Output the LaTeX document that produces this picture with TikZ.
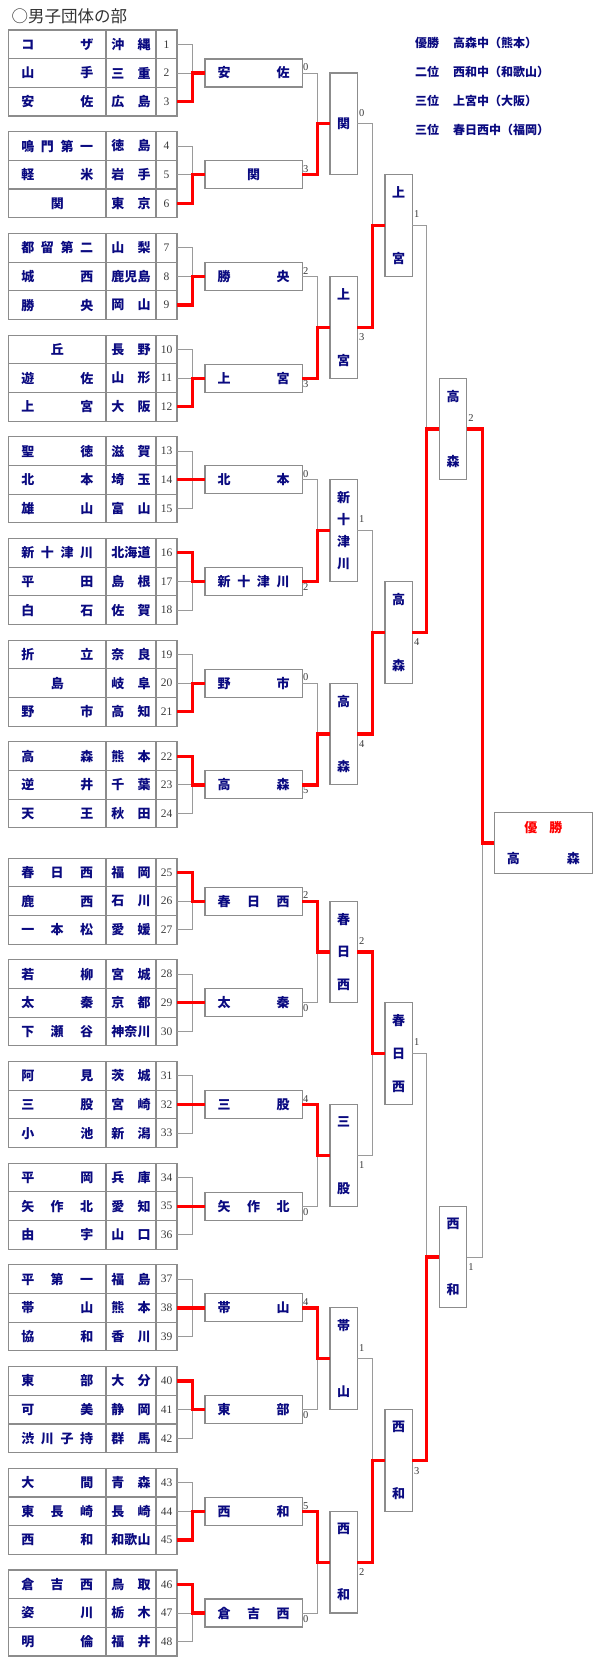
\documentclass[tikz,border=0pt]{standalone}
\usepackage{fontspec}
\usepackage{tikz}
\usetikzlibrary{positioning}
\newfontfamily\jpfont{Noto Sans CJK JP}
\newfontfamily\numfont{Liberation Serif}
\definecolor{ink}{HTML}{0A0A80}
\definecolor{frame}{HTML}{8C8C8C}
\definecolor{rule}{HTML}{9A9A9A}
\definecolor{winred}{HTML}{FF0000}
\definecolor{digit}{HTML}{3A3A3A}
\definecolor{titlegray}{HTML}{333333}

% spread the characters of a name over a fixed width / height
\def\spreadnext#1#2\endspread{#1\ifx\relax#2\relax\else\hfill\spreadnext#2\endspread\fi}
\def\vspreadnext#1#2\endspread{\hbox to 14pt{\hss#1\hss}\ifx\relax#2\relax\else\vfill\vspreadnext#2\endspread\fi}
\newcommand\spreadbox[2]{\hbox to #1{\hfil\expandafter\spreadnext#2\endspread\hfil}}
\newcommand\vspreadbox[2]{\vbox to #1{\vfil\expandafter\vspreadnext#2\endspread\vfil}}

\tikzset{
  cell/.style={draw=frame,line width=1.1pt,inner sep=0pt,outer sep=0pt,minimum height=28.67pt,text=ink,font=\jpfont\bfseries\fontsize{13}{13}\selectfont},
  namecell/.style={cell,minimum width=97.5pt},
  prefcell/.style={cell,minimum width=50pt},
  seedcell/.style={cell,minimum width=21pt,text=digit,font=\numfont\fontsize{11.5}{11.5}\selectfont},
  winbox/.style={cell,minimum width=97.3pt,minimum height=28pt},
  tallbox/.style={cell,minimum width=27.3pt,minimum height=101.7pt},
  bline/.style={draw=rule,line width=0.9pt},
  winline/.style={draw=winred,line width=3.2pt},
  score/.style={text=digit,font=\numfont\fontsize{10.5}{10.5}\selectfont,inner sep=0.5pt},
  score up/.style={score,anchor=south west,yshift=1.5pt},
  score dn/.style={score,anchor=north west,yshift=-1.5pt},
  tall up/.style={score,anchor=south west,xshift=1pt,yshift=7pt},
  tall dn/.style={score,anchor=north west,xshift=1pt,yshift=-6pt},
  legend/.style={anchor=west,inner sep=0pt,text=ink,font=\jpfont\bfseries\fontsize{12}{12}\selectfont}
}

\begin{document}
\begin{tikzpicture}[x=1pt,y=-1pt]
  \useasboundingbox (0,0) rectangle (600,1680);
  \node[anchor=west,inner sep=0pt,text=titlegray,font=\jpfont\fontsize{16.5}{16.5}\selectfont] (title) at (11.5,16.5) {○男子団体の部};

  \node[legend] (leg1) at (415,43) {優勝\hspace{14pt}高森中（熊本）};
  \node[legend] (leg2) at (415,72) {二位\hspace{14pt}西和中（和歌山）};
  \node[legend] (leg3) at (415,101) {三位\hspace{14pt}上宮中（大阪）};
  \node[legend] (leg4) at (415,130) {三位\hspace{14pt}春日西中（福岡）};

  % entry table
  \foreach \s/\tm/\pf in {1/コザ/沖縄,2/山手/三重,3/安佐/広島,4/鳴門第一/徳島,5/軽米/岩手,6/関/東京,
      7/都留第二/山梨,8/城西/鹿児島,9/勝央/岡山,10/丘/長野,11/遊佐/山形,12/上宮/大阪,
      13/聖徳/滋賀,14/北本/埼玉,15/雄山/富山,16/新十津川/北海道,17/平田/島根,18/白石/佐賀,
      19/折立/奈良,20/島/岐阜,21/野市/高知,22/高森/熊本,23/逆井/千葉,24/天王/秋田,
      25/春日西/福岡,26/鹿西/石川,27/一本松/愛媛,28/若柳/宮城,29/太秦/京都,30/下瀬谷/神奈川,
      31/阿見/茨城,32/三股/宮崎,33/小池/新潟,34/平岡/兵庫,35/矢作北/愛知,36/由宇/山口,
      37/平第一/福島,38/帯山/熊本,39/協和/香川,40/東部/大分,41/可美/静岡,42/渋川子持/群馬,
      43/大間/青森,44/東長崎/長崎,45/西和/和歌山,46/倉吉西/鳥取,47/姿川/栃木,48/明倫/福井}{
    \pgfmathtruncatemacro\gi{(\s-1)/3}
    \pgfmathsetmacro\ry{44.33+\gi*101.7+(\gi>7)*14.5+mod(\s-1,3)*28.67}
    \node[namecell] (t\s) at (57.25,\ry) {\spreadbox{72pt}{\tm}};
    \node[prefcell] (p\s) at (131,\ry) {\spreadbox{39.5pt}{\pf}};
    \node[seedcell] (n\s) at (166.5,\ry) {\s};
  }

  % first round
  \foreach \g/\wn/\ws/\pt/\lp in {1/安佐/3/0/up,2/関/6/3/up,3/勝央/9/2/up,4/上宮/12/3/dn,
      5/北本/14/0/up,6/新十津川/16/2/dn,7/野市/21/0/up,8/高森/22/5/dn,
      9/春日西/25/2/up,10/太秦/29/0/dn,11/三股/32/4/up,12/矢作北/35/0/dn,
      13/帯山/38/4/up,14/東部/40/0/dn,15/西和/45/5/up,16/倉吉西/46/0/dn}{
    \pgfmathtruncatemacro\sa{3*\g-2}
    \pgfmathtruncatemacro\sm{3*\g-1}
    \pgfmathtruncatemacro\sz{3*\g}
    \node[winbox] (b\g) at (253.65,{73+(\g-1)*101.7+(\g>8)*14.5}) {\spreadbox{72pt}{\wn}};
    \draw[bline] (n\sa.east) -- ++(15.7,0) |- (b\g.west);
    \draw[bline] (n\sz.east) -- ++(15.7,0) |- (b\g.west);
    \draw[bline] (n\sm.east) -- (b\g.west);
    \draw[winline] (n\ws.east) -- ++(15.7,0) |- (b\g.west);
    \node[score \lp] (l\g) at (b\g.east) {\pt};
  }

  % second round
  \foreach \k/\wn/\wf/\pt/\lp in {1/関/2/0/up,2/上宮/4/3/dn,3/新十津川/6/1/up,4/高森/8/4/dn,
      5/春日西/9/2/up,6/三股/11/1/dn,7/帯山/13/1/up,8/西和/15/2/dn}{
    \pgfmathtruncatemacro\bu{2*\k-1}
    \pgfmathtruncatemacro\bv{2*\k}
    \node[tallbox] (k\k) at (343.65,{123.85+(\k-1)*203.4+(\k>4)*14.5}) {\vspreadbox{78pt}{\wn}};
    \draw[bline] (b\bu.east) -- ++(15,0) |- (k\k.west);
    \draw[bline] (b\bv.east) -- ++(15,0) |- (k\k.west);
    \draw[winline] (b\wf.east) -- ++(15,0) |- (k\k.west);
    \node[tall \lp] (lk\k) at (k\k.east) {\pt};
  }

  % third round
  \foreach \j/\wn/\wf/\pt/\lp in {1/上宮/2/1/up,2/高森/4/4/dn,3/春日西/5/1/up,4/西和/8/3/dn}{
    \pgfmathtruncatemacro\bu{2*\j-1}
    \pgfmathtruncatemacro\bv{2*\j}
    \node[tallbox] (m\j) at (398.65,{225.55+(\j-1)*406.8+(\j>2)*14.5}) {\vspreadbox{78pt}{\wn}};
    \draw[bline] (k\bu.east) -- ++(15.4,0) |- (m\j.west);
    \draw[bline] (k\bv.east) -- ++(15.4,0) |- (m\j.west);
    \draw[winline] (k\wf.east) -- ++(15.4,0) |- (m\j.west);
    \node[tall \lp] (lm\j) at (m\j.east) {\pt};
  }

  % semi-finals
  \node[tallbox,minimum width=27.4pt] (s1) at (453,428.95) {\vspreadbox{78pt}{高森}};
  \node[tallbox,minimum width=27.4pt] (s2) at (453,1257.05) {\vspreadbox{78pt}{西和}};
  \draw[bline] (m1.east) -- ++(14.4,0) |- (s1.west);
  \draw[bline] (m2.east) -- ++(14.4,0) |- (s1.west);
  \draw[winline] (m2.east) -- ++(14.4,0) |- (s1.west);
  \draw[bline] (m3.east) -- ++(14.4,0) |- (s2.west);
  \draw[bline] (m4.east) -- ++(14.4,0) |- (s2.west);
  \draw[winline] (m4.east) -- ++(14.4,0) |- (s2.west);
  \node[tall up] (ls1) at (s1.east) {2};
  \node[tall dn] (ls2) at (s2.east) {1};

  % final
  \node[cell,minimum width=98pt,minimum height=60.6pt,align=center] (fin) at (543.3,843)
    {\textcolor{winred}{優\hspace{12pt}勝}\\[18pt]\spreadbox{73pt}{高森}};
  \draw[bline] (s1.east) -- ++(15.6,0) |- (fin.west);
  \draw[bline] (s2.east) -- ++(15.6,0) |- (fin.west);
  \draw[winline] (s1.east) -- ++(15.6,0) |- (fin.west);
\end{tikzpicture}
\end{document}
